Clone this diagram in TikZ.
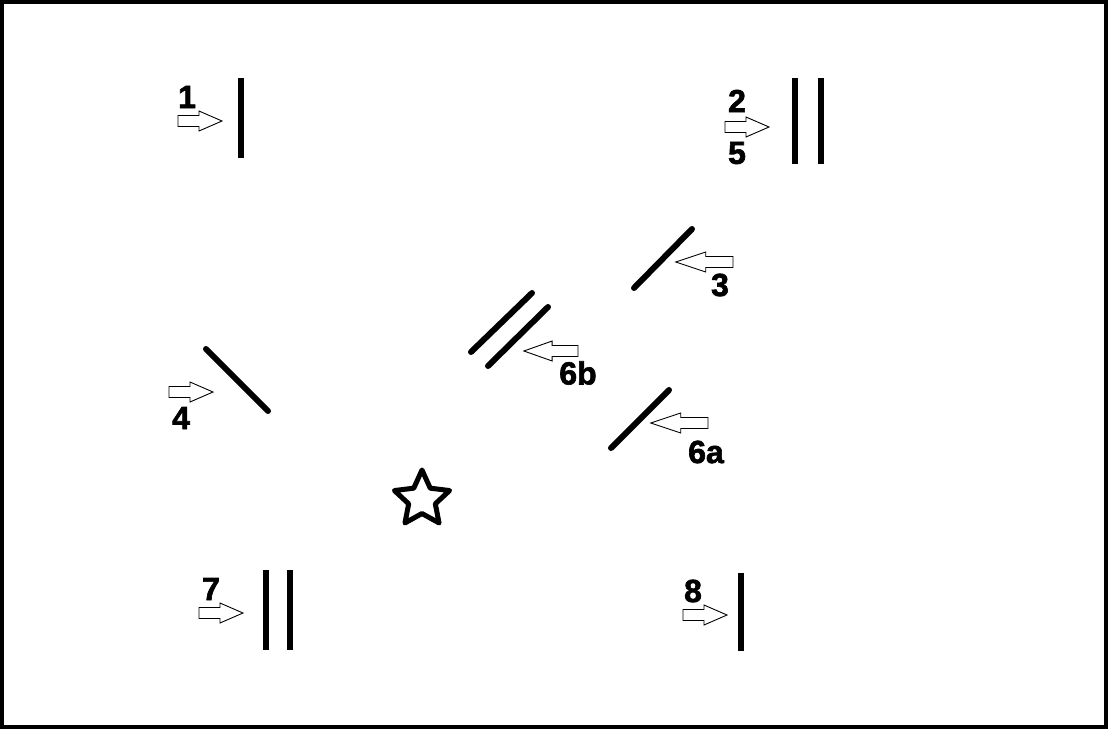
\documentclass[tikz,border=0pt]{standalone}
\usepackage{fontspec}
\newfontfamily\lblfont{Liberation Sans Bold}[FakeBold=2]
\begin{document}
\begin{tikzpicture}[x=1pt,y=-1pt,
  mirror/.style={line width=6pt},
  dmirror/.style={line width=6pt,line cap=round},
  lbl/.style={font=\fontsize{32}{32}\lblfont,inner sep=0pt},
  beam/.pic={\draw[line width=0.9pt,fill=white] (0,-5.5) -- (21,-5.5) -- (21,-10) -- (44,0) -- (21,10) -- (21,5.5) -- (0,5.5) -- cycle;}]
\useasboundingbox (0,0) rectangle (1108,729);
\draw[line width=4pt] (2,2) rectangle (1106,727);
% 1
\draw[mirror] (241,78) -- (241,158);
\pic at (178,121) {beam};
\node[lbl] (l1) at (187,97) {1};
% 2/5
\draw[mirror] (795,78) -- (795,164);
\draw[mirror] (821,78) -- (821,164);
\pic at (725,127) {beam};
\node[lbl] (l2) at (737,101) {2};
\node[lbl] (l5) at (737,153) {5};
% 3
\draw[dmirror] (634,288) -- (692,229);
\pic[xscale=-1.3] at (733,262) {beam};
\node[lbl] (l3) at (720,285) {3};
% 6b
\draw[dmirror] (471,352) -- (532,293);
\draw[dmirror] (488,366) -- (548,307);
\pic[xscale=-1.23] at (578,351) {beam};
\node[lbl] (l6b) at (578,373) {6b};
% 4
\draw[dmirror] (206,349) -- (268,411);
\pic at (169,392) {beam};
\node[lbl] (l4) at (181,418) {4};
% 6a
\draw[dmirror] (611,448) -- (669,390);
\pic[xscale=-1.3] at (708,423) {beam};
\node[lbl] (l6a) at (706,452) {6a};
% star
\draw[line width=5pt,line join=round] (422,470)
  \foreach \i in {1,...,9} {-- ({422+ (mod(\i,2)==0 ? 29 : 14)*sin(36*\i)}, {499.5 - (mod(\i,2)==0 ? 29 : 14)*cos(36*\i)})} -- cycle;
% 7
\draw[mirror] (266,570) -- (266,650);
\draw[mirror] (290,570) -- (290,650);
\pic at (199,613) {beam};
\node[lbl] (l7) at (211,589) {7};
% 8
\draw[mirror] (741,573) -- (741,651);
\pic at (683,615) {beam};
\node[lbl] (l8) at (693,591) {8};
\end{tikzpicture}
\end{document}
